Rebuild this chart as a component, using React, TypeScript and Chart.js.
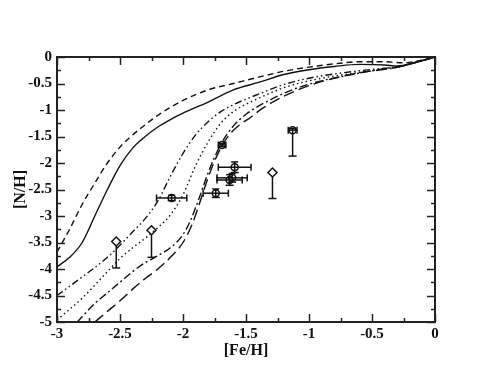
import React, { useEffect, useRef } from "react";
import { Chart, registerables } from "chart.js";
Chart.register(...registerables);

// ---- axis ranges / ticks ----
const X_MIN = -3;
const X_MAX = 0;
const Y_MIN = -5;
const Y_MAX = 0;
const X_STEP = 0.5;
const Y_STEP = 0.5;

// ---- model curves ----
const shortDashX = [-3, -2.9, -2.8, -2.7, -2.6, -2.5, -2.4, -2.3, -2.2, -2.0, -1.8, -1.6, -1.4, -1.2, -1.0, -0.8, -0.6, -0.4, -0.25, -0.15, 0];
const shortDashY = [-3.68, -3.25, -2.78, -2.38, -2.0, -1.7, -1.47, -1.28, -1.1, -0.82, -0.62, -0.5, -0.38, -0.27, -0.19, -0.13, -0.09, -0.09, -0.11, -0.08, 0];

const solidX = [-3, -2.9, -2.8, -2.7, -2.6, -2.5, -2.4, -2.3, -2.2, -2.1, -2.0, -1.8, -1.6, -1.4, -1.2, -1.0, -0.8, -0.6, -0.4, -0.3, -0.15, 0];
const solidY = [-3.96, -3.78, -3.5, -3.0, -2.5, -2.05, -1.72, -1.5, -1.32, -1.18, -1.06, -0.85, -0.62, -0.48, -0.33, -0.24, -0.18, -0.14, -0.15, -0.17, -0.1, 0];

const dashDotDotX = [-3, -2.8, -2.6, -2.5, -2.4, -2.3, -2.2, -2.1, -2.0, -1.9, -1.8, -1.7, -1.6, -1.4, -1.2, -1.0, -0.8, -0.6, -0.4, -0.3, -0.15, 0];
const dashDotDotY = [-4.5, -4.15, -3.78, -3.55, -3.3, -3.05, -2.72, -2.25, -1.82, -1.47, -1.22, -1.03, -0.9, -0.7, -0.52, -0.4, -0.32, -0.26, -0.21, -0.19, -0.1, 0];

const dottedX = [-3, -2.8, -2.6, -2.5, -2.4, -2.3, -2.2, -2.1, -2.0, -1.9, -1.8, -1.7, -1.6, -1.4, -1.2, -1.0, -0.8, -0.6, -0.4, -0.3, -0.15, 0];
const dottedY = [-4.96, -4.55, -4.05, -3.8, -3.6, -3.42, -3.22, -2.98, -2.6, -2.05, -1.6, -1.25, -1.03, -0.78, -0.58, -0.45, -0.36, -0.29, -0.23, -0.2, -0.1, 0];

const dashDotX = [-2.84, -2.7, -2.6, -2.5, -2.4, -2.3, -2.2, -2.1, -2.0, -1.94, -1.87, -1.8, -1.7, -1.6, -1.5, -1.3, -1.1, -0.9, -0.7, -0.55, -0.4, -0.3, -0.15, 0];
const dashDotY = [-5.0, -4.65, -4.45, -4.25, -4.05, -3.88, -3.75, -3.6, -3.35, -3.08, -2.65, -2.18, -1.65, -1.3, -1.08, -0.8, -0.59, -0.45, -0.35, -0.28, -0.22, -0.19, -0.1, 0];

const longDashX = [-2.7, -2.6, -2.5, -2.4, -2.3, -2.2, -2.1, -2.0, -1.93, -1.87, -1.8, -1.73, -1.65, -1.55, -1.47, -1.37, -1.2, -1.0, -0.8, -0.6, -0.4, -0.3, -0.15, 0];
const longDashY = [-5.0, -4.8, -4.6, -4.38, -4.18, -4.0, -3.78, -3.5, -3.17, -2.77, -2.27, -1.86, -1.52, -1.28, -1.15, -0.97, -0.74, -0.54, -0.4, -0.3, -0.23, -0.19, -0.1, 0];

// ---- observations: open diamonds (error bar downward) ----
const diamondX = [-2.53, -2.25, -1.29];
const diamondY = [-3.48, -3.27, -2.18];
const diamondYLow = [-3.98, -3.78, -2.67];

// ---- observations: open circles with error bars ----
const circleX = [-2.09, -1.74, -1.69, -1.59, -1.61, -1.63, -1.13];
const circleY = [-2.66, -2.57, -1.66, -2.08, -2.28, -2.32, -1.38];
const circleXErr = [0.12, 0.1, 0.03, 0.13, 0.12, 0.1, 0.035];
const circleYErrUp = [0.05, 0.08, 0.03, 0.1, 0.08, 0.1, 0.03];
const circleYErrDown = [0.05, 0.08, 0.03, 0.1, 0.08, 0.1, 0.49];

const toPts = (xs: number[], ys: number[]) => xs.map((x, i) => ({ x, y: ys[i] }));

const FONT = "'Liberation Serif', 'Times New Roman', serif";
const INK = "#111";

const errorBarPlugin = {
  id: "errorBars",
  beforeDatasetsDraw(chart: any) {
    const { ctx, scales } = chart;
    const xs = scales.x;
    const ys = scales.y;
    const cap = 3.5;
    ctx.save();
    ctx.strokeStyle = INK;
    ctx.lineWidth = 1.5;
    const seg = (a: number, b: number, c: number, d: number) => {
      ctx.beginPath();
      ctx.moveTo(a, b);
      ctx.lineTo(c, d);
      ctx.stroke();
    };
    diamondX.forEach((xv, i) => {
      const px = xs.getPixelForValue(xv);
      const py = ys.getPixelForValue(diamondY[i]);
      const pl = ys.getPixelForValue(diamondYLow[i]);
      seg(px, py, px, pl);
      seg(px - cap - 0.5, pl, px + cap + 0.5, pl);
    });
    circleX.forEach((xv, i) => {
      const px = xs.getPixelForValue(xv);
      const py = ys.getPixelForValue(circleY[i]);
      const xl = xs.getPixelForValue(xv - circleXErr[i]);
      const xr = xs.getPixelForValue(xv + circleXErr[i]);
      const yt = ys.getPixelForValue(circleY[i] + circleYErrUp[i]);
      const yb = ys.getPixelForValue(circleY[i] - circleYErrDown[i]);
      seg(xl, py, xr, py);
      seg(xl, py - cap, xl, py + cap);
      seg(xr, py - cap, xr, py + cap);
      seg(px, yt, px, yb);
      seg(px - cap, yt, px + cap, yt);
      seg(px - cap - 0.5, yb, px + cap + 0.5, yb);
    });
    ctx.restore();
  },
};

const framePlugin = {
  id: "frameTicks",
  afterDatasetsDraw(chart: any) {
    const { ctx, chartArea, scales } = chart;
    const { left, right, top, bottom } = chartArea;
    const xs = scales.x;
    const ys = scales.y;
    const major = 8;
    const minor = 4;
    ctx.save();
    ctx.strokeStyle = "#222";
    ctx.lineWidth = 1.5;
    const seg = (a: number, b: number, c: number, d: number) => {
      ctx.beginPath();
      ctx.moveTo(a, b);
      ctx.lineTo(c, d);
      ctx.stroke();
    };
    for (let k = 0; k <= (X_MAX - X_MIN) / (X_STEP / 2) + 1e-9; k++) {
      const v = X_MIN + k * (X_STEP / 2);
      const p = Math.round(xs.getPixelForValue(v)) + 0.5;
      const len = k % 2 === 0 ? major : minor;
      seg(p, bottom, p, bottom - len);
      seg(p, top, p, top + len);
    }
    for (let k = 0; k <= (Y_MAX - Y_MIN) / (Y_STEP / 2) + 1e-9; k++) {
      const v = Y_MIN + k * (Y_STEP / 2);
      const p = Math.round(ys.getPixelForValue(v)) + 0.5;
      const len = k % 2 === 0 ? major : minor;
      seg(left, p, left + len, p);
      seg(right, p, right - len, p);
    }
    ctx.lineWidth = 2;
    ctx.strokeRect(left, top, right - left, bottom - top);
    ctx.restore();
  },
};

export default function App() {
  const ref = useRef<HTMLCanvasElement | null>(null);
  useEffect(() => {
    if (!ref.current) return;
    const curve = (xs: number[], ys: number[], dash: number[]) => ({
      type: "line" as const,
      data: toPts(xs, ys),
      borderColor: INK,
      borderWidth: 1.4,
      borderDash: dash,
      pointRadius: 0,
      fill: false,
      cubicInterpolationMode: "monotone" as const,
    });
    const chart = new Chart(ref.current, {
      type: "scatter",
      data: {
        datasets: [
          curve(shortDashX, shortDashY, [6, 4]),
          curve(solidX, solidY, []),
          curve(dashDotDotX, dashDotDotY, [7, 3, 1.5, 3, 1.5, 3]),
          curve(dottedX, dottedY, [1.5, 3]),
          curve(dashDotX, dashDotY, [8, 3, 2, 3]),
          curve(longDashX, longDashY, [11, 5]),
          {
            type: "scatter" as const,
            data: toPts(diamondX, diamondY),
            pointStyle: "rectRot",
            pointRadius: 4.5,
            pointBackgroundColor: "#fff",
            pointBorderColor: INK,
            pointBorderWidth: 1.5,
          },
          {
            type: "scatter" as const,
            data: toPts(circleX, circleY),
            pointStyle: "circle",
            pointRadius: 3.5,
            pointBackgroundColor: "rgba(0,0,0,0)",
            pointBorderColor: INK,
            pointBorderWidth: 1.5,
          },
        ],
      } as any,
      options: {
        responsive: false,
        animation: false,
        events: [],
        layout: { padding: { left: 0, top: 57, right: 56, bottom: 0 } },
        plugins: { legend: { display: false }, tooltip: { enabled: false } },
        scales: {
          x: {
            type: "linear",
            min: X_MIN,
            max: X_MAX,
            afterFit: (s: any) => {
              s.height = 57;
            },
            afterBuildTicks: (s: any) => {
              const t = [];
              for (let v = X_MIN; v <= X_MAX + 1e-9; v += X_STEP) t.push({ value: Math.round(v * 100) / 100 });
              s.ticks = t;
            },
            ticks: {
              autoSkip: false,
              maxRotation: 0,
              padding: 3,
              color: INK,
              font: { family: FONT, size: 15, weight: "bold" },
              callback: (v: any) => String(v),
            },
            grid: { display: false, drawTicks: false },
            border: { display: false },
            title: {
              display: true,
              text: "[Fe/H]",
              color: INK,
              font: { family: FONT, size: 16, weight: "bold" },
              padding: { top: 0, bottom: 19 },
            },
          },
          y: {
            type: "linear",
            min: Y_MIN,
            max: Y_MAX,
            afterFit: (s: any) => {
              s.width = 57;
            },
            afterBuildTicks: (s: any) => {
              const t = [];
              for (let v = Y_MIN; v <= Y_MAX + 1e-9; v += Y_STEP) t.push({ value: Math.round(v * 100) / 100 });
              s.ticks = t;
            },
            ticks: {
              autoSkip: false,
              padding: 5,
              color: INK,
              font: { family: FONT, size: 15, weight: "bold" },
              callback: (v: any) => String(v),
            },
            grid: { display: false, drawTicks: false },
            border: { display: false },
            title: {
              display: true,
              text: "[N/H]",
              color: INK,
              font: { family: FONT, size: 16, weight: "bold" },
              padding: { top: 11, bottom: 0 },
            },
          },
        },
      } as any,
      plugins: [errorBarPlugin, framePlugin],
    });
    return () => chart.destroy();
  }, []);
  return (
    <div style={{ position: "fixed", left: 0, top: 0, width: 491, height: 379, background: "#fff" }}>
      <canvas ref={ref} width={491} height={379} style={{ width: 491, height: 379, display: "block" }} />
    </div>
  );
}
